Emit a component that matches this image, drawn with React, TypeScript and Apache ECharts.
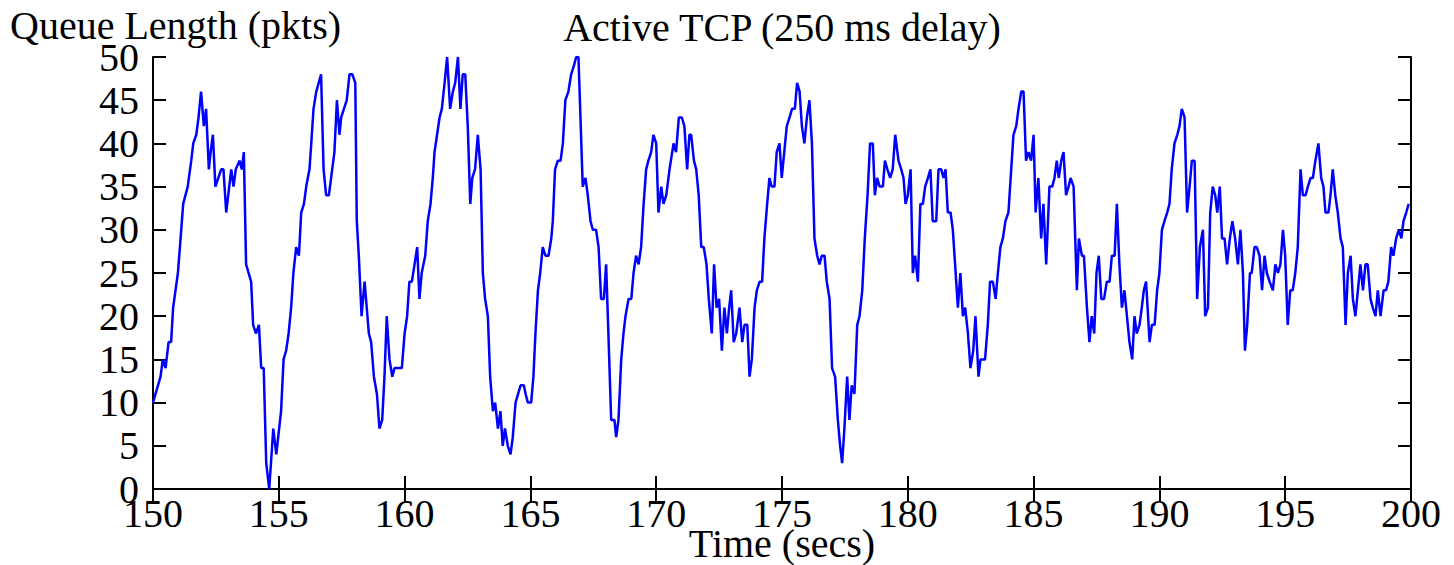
import React, { useEffect, useRef } from "react";
import * as echarts from "echarts";

const chartTitle = "Active TCP (250 ms delay)";
const yTitle = "Queue Length (pkts)";
const xTitle = "Time (secs)";

const times: number[] = [
  150.0, 150.3, 150.39, 150.5, 150.62, 150.72, 150.8, 150.99, 151.07, 151.2, 151.38, 151.52, 151.6, 151.72, 151.81, 151.91,
  152.02, 152.11, 152.22, 152.29, 152.38, 152.48, 152.71, 152.8, 152.91, 153.11, 153.2, 153.29, 153.44, 153.53, 153.61, 153.7,
  153.9, 153.98, 154.09, 154.21, 154.3, 154.4, 154.5, 154.62, 154.78, 154.9,
  155.09, 155.19, 155.29, 155.39, 155.49, 155.58, 155.69, 155.8, 155.89, 156.0, 156.09, 156.22, 156.29, 156.38, 156.49, 156.68,
  156.78, 156.88, 156.99, 157.08, 157.21, 157.31, 157.41, 157.48, 157.7, 157.81, 157.92, 158.04, 158.1, 158.18, 158.29, 158.41,
  158.58, 158.67, 158.78, 158.9, 159.0, 159.11, 159.2, 159.29, 159.4, 159.51, 159.6, 159.89,
  160.0, 160.1, 160.19, 160.29, 160.5, 160.59, 160.68, 160.82, 160.92, 161.03, 161.12, 161.19, 161.29, 161.39, 161.48, 161.59,
  161.69, 161.81, 161.92, 162.01, 162.12, 162.22, 162.31, 162.41, 162.51, 162.61, 162.69, 162.8, 162.91, 163.02, 163.11, 163.2,
  163.31, 163.4, 163.51, 163.6, 163.71, 163.81, 163.9, 163.99, 164.1, 164.21, 164.3, 164.41, 164.61, 164.74, 164.81, 164.9,
  165.03, 165.12, 165.2, 165.3, 165.39, 165.49, 165.6, 165.72, 165.83, 165.89, 165.98, 166.09, 166.2, 166.29, 166.39, 166.51,
  166.62, 166.73, 166.82, 166.91, 166.99, 167.08, 167.19, 167.28, 167.39, 167.48, 167.61, 167.71, 167.81, 167.92, 168.01, 168.1,
  168.21, 168.34, 168.41, 168.5, 168.61, 168.7, 168.78, 168.9, 169.01, 169.1, 169.2, 169.3, 169.4, 169.5, 169.6, 169.69,
  169.8, 169.89, 170.0, 170.09, 170.2, 170.29, 170.4, 170.53, 170.69, 170.79, 170.9, 171.02, 171.12, 171.23, 171.32, 171.39,
  171.5, 171.59, 171.69, 171.79, 171.89, 172.0, 172.09, 172.21, 172.3, 172.4, 172.5, 172.61, 172.71, 172.81, 172.9, 172.98,
  173.08, 173.18, 173.31, 173.42, 173.51, 173.62, 173.71, 173.8, 173.91, 174.0, 174.11, 174.21, 174.3, 174.41, 174.5, 174.59,
  174.7, 174.79, 174.9, 174.99, 175.19, 175.3, 175.4, 175.51, 175.6, 175.7, 175.79, 175.89, 175.99, 176.09, 176.19, 176.29,
  176.4, 176.49, 176.58, 176.69, 176.78, 176.89, 176.99, 177.11, 177.22, 177.31, 177.39, 177.48, 177.59, 177.68, 177.77, 177.88,
  177.99, 178.08, 178.19, 178.29, 178.4, 178.5, 178.61, 178.69, 178.78, 178.88, 179.01, 179.09, 179.19, 179.3, 179.4, 179.5,
  179.63, 179.74, 179.83, 179.91, 180.0, 180.11, 180.2, 180.29, 180.4, 180.5, 180.6, 180.69, 180.8, 180.9, 180.99, 181.13,
  181.22, 181.33, 181.42, 181.5, 181.59, 181.7, 181.79, 181.88, 181.99, 182.09, 182.19, 182.28, 182.39, 182.49, 182.6, 182.69,
  182.81, 182.89, 183.07, 183.18, 183.27, 183.38, 183.49, 183.58, 183.68, 183.78, 183.88, 184.0, 184.11, 184.2, 184.31, 184.4,
  184.51, 184.6, 184.7, 184.8, 184.9, 185.0, 185.08, 185.19, 185.3, 185.39, 185.5, 185.63, 185.74, 185.83, 185.92, 186.0,
  186.1, 186.19, 186.29, 186.39, 186.47, 186.59, 186.72, 186.8, 186.92, 187.0, 187.12, 187.22, 187.31, 187.41, 187.5, 187.59,
  187.69, 187.8, 187.91, 188.02, 188.11, 188.22, 188.31, 188.41, 188.51, 188.61, 188.71, 188.81, 188.92, 189.01, 189.1, 189.21,
  189.3, 189.38, 189.47, 189.61, 189.7, 189.81, 189.91, 190.0, 190.1, 190.2, 190.31, 190.4, 190.49, 190.6, 190.71, 190.8,
  190.89, 191.0, 191.1, 191.2, 191.29, 191.4, 191.5, 191.61, 191.73, 191.82, 191.93, 192.02, 192.12, 192.22, 192.3, 192.4,
  192.49, 192.59, 192.69, 192.8, 192.9, 193.01, 193.12, 193.22, 193.32, 193.4, 193.49, 193.6, 193.67, 193.78, 193.87, 193.98,
  194.08, 194.18, 194.27, 194.38, 194.51, 194.61, 194.71, 194.81, 194.91, 195.0, 195.1, 195.2, 195.3, 195.4, 195.5, 195.61,
  195.7, 195.81, 195.9, 196.01, 196.1, 196.2, 196.32, 196.43, 196.52, 196.6, 196.72, 196.8, 196.89, 196.99, 197.09, 197.2,
  197.29, 197.4, 197.49, 197.6, 197.69, 197.79, 197.89, 197.99, 198.09, 198.19, 198.28, 198.39, 198.48, 198.59, 198.68, 198.79,
  198.91, 199.01, 199.1, 199.21, 199.3, 199.41, 199.51, 199.62, 199.7, 199.81, 199.91,
];

const queueLength: number[] = [
  10, 13, 15, 14, 17, 17, 21, 25, 28, 33, 35, 38, 40, 41, 43, 46,
  42, 44, 37, 39, 41, 35, 37, 37, 32, 37, 35, 37, 38, 37, 39, 26,
  24, 19, 18, 19, 14, 14, 3, 0, 7, 4,
  9, 15, 16, 18, 21, 25, 28, 27, 32, 33, 35, 37, 40, 44, 46, 48,
  37, 34, 34, 36, 39, 45, 41, 43, 45, 48, 48, 47, 31, 27, 20, 24,
  18, 17, 13, 11, 7, 8, 13, 20, 15, 13, 14, 14,
  18, 20, 24, 24, 28, 22, 25, 27, 31, 33, 36, 39, 41, 43, 44, 47,
  50, 44, 46, 47, 50, 44, 48, 48, 42, 33, 36, 37, 41, 37, 25, 22,
  20, 13, 9, 10, 7, 9, 5, 7, 5, 4, 6, 10, 12, 12, 11, 10,
  10, 13, 18, 23, 25, 28, 27, 27, 29, 31, 37, 38, 38, 40, 45, 46,
  48, 49, 50, 50, 43, 35, 36, 34, 31, 30, 30, 28, 22, 22, 26, 18,
  8, 8, 6, 8, 15, 18, 20, 22, 22, 25, 27, 26, 28, 33, 37, 38,
  39, 41, 40, 32, 35, 33, 34, 37, 40, 39, 43, 43, 42, 37, 41, 41,
  38, 37, 34, 28, 28, 26, 22, 18, 26, 21, 22, 16, 21, 18, 21, 23,
  17, 18, 21, 17, 19, 19, 13, 15, 21, 23, 24, 24, 29, 33, 36, 35,
  35, 39, 40, 36, 42, 43, 44, 44, 47, 46, 42, 40, 43, 45, 40, 29,
  27, 26, 27, 27, 24, 22, 14, 13, 8, 5, 3, 7, 13, 8, 12, 11,
  19, 20, 23, 29, 34, 40, 40, 34, 36, 35, 35, 38, 37, 36, 37, 41,
  38, 37, 36, 33, 34, 37, 25, 27, 24, 33, 33, 35, 36, 37, 31, 31,
  37, 37, 36, 37, 32, 32, 30, 26, 21, 25, 20, 21, 18, 14, 16, 20,
  13, 15, 15, 19, 24, 24, 22, 25, 28, 29, 31, 32, 37, 41, 42, 44,
  46, 46, 38, 39, 38, 41, 32, 36, 29, 33, 26, 35, 35, 36, 38, 36,
  38, 39, 34, 35, 36, 35, 23, 29, 27, 27, 21, 17, 20, 18, 25, 27,
  22, 22, 24, 24, 27, 27, 33, 26, 21, 23, 20, 17, 15, 20, 18, 19,
  21, 23, 24, 17, 19, 19, 23, 25, 30, 31, 32, 33, 37, 40, 41, 42,
  44, 43, 32, 35, 38, 38, 22, 28, 30, 20, 21, 32, 35, 34, 32, 35,
  29, 29, 26, 29, 31, 29, 26, 30, 25, 16, 19, 25, 25, 28, 28, 27,
  23, 27, 25, 24, 23, 26, 25, 26, 30, 27, 19, 23, 23, 25, 28, 37,
  34, 34, 35, 36, 36, 38, 40, 36, 35, 32, 32, 34, 37, 34, 32, 29,
  28, 19, 25, 27, 22, 20, 23, 26, 23, 26, 26, 22, 21, 20, 23, 20,
  23, 23, 24, 28, 27, 29, 30, 29, 31, 32, 33,
];

const xMin = 150;
const xMax = 200;
const xStep = 5;
const yMin = 0;
const yMax = 50;
const yStep = 5;

const FONT = "Liberation Serif";
const FS = 40;

export default function App() {
  const ref = useRef<HTMLDivElement>(null);
  useEffect(() => {
    document.body.style.margin = "0";
    if (!ref.current) return;
    const chart = echarts.init(ref.current, null, { renderer: "svg" });
    const points = times.map((t, i) => [t, queueLength[i]]);
    const axisLine = { show: true, lineStyle: { color: "#000", width: 2 } };
    const tick = { show: true, inside: true, length: 13, lineStyle: { color: "#000", width: 2 } };
    const label = { color: "#000", fontFamily: FONT, fontSize: FS };
    chart.setOption({
      animation: false,
      backgroundColor: "#fff",
      grid: { left: 153, right: 43, top: 57, bottom: 76, containLabel: false },
      xAxis: [
        {
          type: "value", min: xMin, max: xMax, interval: xStep, position: "bottom",
          axisLine, axisTick: tick, splitLine: { show: false },
          axisLabel: { ...label, margin: 4 },
        },
        {
          type: "value", min: xMin, max: xMax, interval: xStep, position: "top",
          axisLine, axisTick: tick, splitLine: { show: false }, axisLabel: { show: false },
        },
      ],
      yAxis: [
        {
          type: "value", min: yMin, max: yMax, interval: yStep, position: "left",
          axisLine, axisTick: tick, splitLine: { show: false },
          axisLabel: { ...label, margin: 14 },
        },
        {
          type: "value", min: yMin, max: yMax, interval: yStep, position: "right",
          axisLine, axisTick: tick, splitLine: { show: false }, axisLabel: { show: false },
        },
      ],
      graphic: [
        {
          type: "text", left: 10, top: 5,
          style: { text: yTitle, font: `${FS}px "${FONT}"`, fill: "#000" },
        },
        {
          type: "text", x: 782, y: 27,
          style: { text: chartTitle, font: `${FS}px "${FONT}"`, fill: "#000", textAlign: "center", textVerticalAlign: "middle" },
        },
        {
          type: "text", x: 782, y: 543,
          style: { text: xTitle, font: `${FS}px "${FONT}"`, fill: "#000", textAlign: "center", textVerticalAlign: "middle" },
        },
      ],
      series: [
        {
          type: "line", data: points, xAxisIndex: 0, yAxisIndex: 0,
          showSymbol: false, symbol: "none", clip: true,
          lineStyle: { color: "#0000ff", width: 2.5 },
        },
      ],
    });
    return () => chart.dispose();
  }, []);
  return <div ref={ref} style={{ width: 1454, height: 565 }} />;
}
